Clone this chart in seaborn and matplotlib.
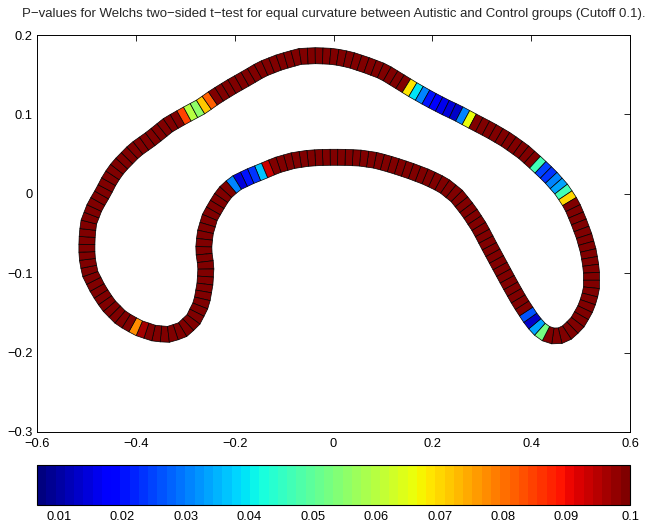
import numpy as np
import matplotlib
matplotlib.use("Agg")
import matplotlib.pyplot as plt
from matplotlib.collections import PolyCollection
from matplotlib.colors import Normalize
import seaborn as sns

# centre line of the closed outline (data units)
curve_x = [-0.334, -0.361, -0.395, -0.429, -0.456, -0.476, -0.493, -0.499, -0.499, -0.496,
           -0.483, -0.466, -0.452, -0.435, -0.402, -0.368, -0.334, -0.300, -0.267, -0.240,
           -0.206, -0.172, -0.145, -0.108, -0.068, -0.034, 0.000, 0.033, 0.067, 0.101,
           0.135, 0.161, 0.195, 0.226, 0.250, 0.283, 0.317, 0.350, 0.384, 0.411,
           0.438, 0.462, 0.482, 0.495, 0.507, 0.516, 0.522, 0.522, 0.512, 0.495,
           0.475, 0.454, 0.434, 0.414, 0.398, 0.377, 0.357, 0.337, 0.317, 0.296,
           0.274, 0.250, 0.222, 0.189, 0.155, 0.121, 0.087, 0.054, 0.020, -0.014,
           -0.048, -0.081, -0.115, -0.145, -0.169, -0.199, -0.222, -0.236, -0.250, -0.260,
           -0.263, -0.258, -0.260, -0.267, -0.284, -0.307]
curve_y = [-0.177, -0.176, -0.169, -0.157, -0.140, -0.121, -0.100, -0.079, -0.058, -0.037,
           -0.016, 0.002, 0.019, 0.034, 0.055, 0.070, 0.087, 0.099, 0.110, 0.122,
           0.135, 0.147, 0.157, 0.166, 0.173, 0.174, 0.173, 0.169, 0.162, 0.154,
           0.141, 0.131, 0.119, 0.109, 0.102, 0.091, 0.080, 0.068, 0.053, 0.038,
           0.022, 0.005, -0.014, -0.033, -0.053, -0.073, -0.096, -0.121, -0.142, -0.161,
           -0.174, -0.180, -0.178, -0.169, -0.156, -0.136, -0.114, -0.091, -0.068, -0.043,
           -0.022, -0.003, 0.011, 0.021, 0.029, 0.036, 0.042, 0.045, 0.046, 0.046,
           0.045, 0.042, 0.036, 0.028, 0.022, 0.013, 0.000, -0.014, -0.029, -0.050,
           -0.071, -0.092, -0.113, -0.138, -0.159, -0.172]

# runs of segments below the cutoff: where each run starts and its p-values
run_start_x = [-0.379, -0.304, 0.148, 0.412, 0.429, -0.135]
run_start_y = [-0.173, 0.095, 0.132, 0.032, -0.174, 0.030]
run_pvals = [
    [0.097, 0.077],
    [0.085, 0.060, 0.056, 0.071, 0.082],
    [0.069, 0.039, 0.030, 0.021, 0.018, 0.0155, 0.014, 0.013, 0.031, 0.066],
    [0.047, 0.025, 0.024, 0.030, 0.034, 0.047, 0.070],
    [0.053, 0.034, 0.013, 0.026],
    [0.094, 0.037, 0.024, 0.020, 0.014, 0.031],
]

cutoff = 0.1
p_min = 0.0065

x_ticks = [-0.6, -0.4, -0.2, 0, 0.2, 0.4, 0.6]
x_tick_labels = ["\u22120.6", "\u22120.4", "\u22120.2", "0", "0.2", "0.4", "0.6"]
y_ticks = [-0.3, -0.2, -0.1, 0, 0.1, 0.2]
y_tick_labels = ["\u22120.3", "\u22120.2", "\u22120.1", "0", "0.1", "0.2"]
cbar_ticks = [0.01, 0.02, 0.03, 0.04, 0.05, 0.06, 0.07, 0.08, 0.09, 0.1]
cbar_tick_labels = ["0.01", "0.02", "0.03", "0.04", "0.05", "0.06", "0.07", "0.08", "0.09", "0.1"]

title = ("P\u2212values for Welchs two\u2212sided t\u2212test for equal curvature "
         "between Autistic and Control groups (Cutoff 0.1).")

sns.set_style("white")
plt.rcParams["font.family"] = ["Liberation Sans", "DejaVu Sans"]
plt.rcParams["font.size"] = 9.5

W, H = 655, 523
fig = plt.figure(figsize=(W / 100, H / 100), dpi=100)
ax_box = [37, 91, 593, 397]  # left, bottom, width, height in pixels
ax = fig.add_axes([ax_box[0] / W, ax_box[1] / H, ax_box[2] / W, ax_box[3] / H])
ax.set_xlim(-0.6, 0.6)
ax.set_ylim(-0.3, 0.2)

# work in screen pixels so the band has the same width everywhere
sx = ax_box[2] / 1.2
sy = ax_box[3] / 0.5
pts = np.column_stack([curve_x, curve_y]) * [sx, sy]
closed = np.vstack([pts, pts[:1]])
seglen = np.hypot(*np.diff(closed, axis=0).T)
cum = np.concatenate([[0], np.cumsum(seglen)])
n_seg = int(round(cum[-1] / 7.5))
s = np.linspace(0, cum[-1], n_seg + 1)[:-1]
c = np.column_stack([np.interp(s, cum, closed[:, 0]), np.interp(s, cum, closed[:, 1])])

tang = np.roll(c, -1, axis=0) - np.roll(c, 1, axis=0)
tang /= np.hypot(tang[:, 0], tang[:, 1])[:, None]
normal = np.column_stack([-tang[:, 1], tang[:, 0]])
half_w = 8.0
left = (c + normal * half_w) / [sx, sy]
right = (c - normal * half_w) / [sx, sy]

polys = []
for i in range(n_seg):
    j = (i + 1) % n_seg
    polys.append([left[i], left[j], right[j], right[i]])

pvals = np.full(n_seg, cutoff)
mids = (c + np.roll(c, -1, axis=0)) / 2
for rx, ry, vals in zip(run_start_x, run_start_y, run_pvals):
    d = np.hypot(mids[:, 0] - rx * sx, mids[:, 1] - ry * sy)
    k0 = int(np.argmin(d))
    for k, v in enumerate(vals):
        pvals[(k0 + k) % n_seg] = v

cmap = plt.get_cmap("jet").resampled(64)
norm = Normalize(vmin=p_min, vmax=cutoff)

band = PolyCollection(polys, array=pvals, cmap=cmap, norm=norm,
                      edgecolors="black", linewidths=0.5)
ax.add_collection(band)

ax.set_xticks(x_ticks)
ax.set_xticklabels(x_tick_labels)
ax.set_yticks(y_ticks)
ax.set_yticklabels(y_tick_labels)
ax.tick_params(axis="both", direction="in", length=4, width=0.6, top=True, right=True,
               labelsize=9.3, colors="black")
ax.tick_params(axis="x", pad=4)
ax.tick_params(axis="y", pad=3)
for sp in ax.spines.values():
    sp.set_color("black")
    sp.set_linewidth(0.7)
ax.set_title(title, fontsize=9.5, pad=13)

cax = fig.add_axes([37 / W, 18 / H, 593 / W, 40 / H])
cb = fig.colorbar(plt.cm.ScalarMappable(norm=norm, cmap=cmap), cax=cax,
                  orientation="horizontal")
cb.set_ticks(cbar_ticks)
cb.set_ticklabels(cbar_tick_labels)
cax.tick_params(direction="in", length=4, width=0.6, top=True, bottom=True,
                labelsize=9.3, pad=4, colors="black")
cb.outline.set_linewidth(0.8)
cb.outline.set_edgecolor("black")

fig.savefig("out.png", dpi=100)
plt.close(fig)
